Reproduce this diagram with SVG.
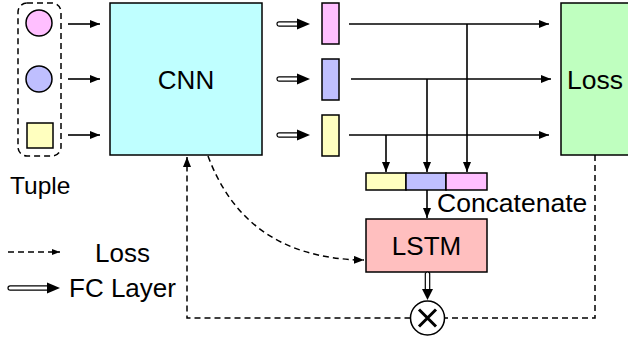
<svg xmlns="http://www.w3.org/2000/svg" width="628" height="341" viewBox="0 0 628 341">
  <style>
    .box { stroke: #000; stroke-width: 1.5; }
    .line { fill: none; stroke: #000; stroke-width: 1.6; }
    .dash { fill: none; stroke: #000; stroke-width: 1.5; stroke-dasharray: 6 4; }
    .shaft { fill: #fff; stroke: #000; stroke-width: 1.2; }
    .head { fill: #000; }
    .txt { font-family: "Liberation Sans", Arial, sans-serif; fill: #000; }
    .pink { fill: #ffbfff; }
    .blue { fill: #bfbfff; }
    .yellow { fill: #ffffbf; }
  </style>
  <defs>
    <marker id="arrow" viewBox="0 0 10 8" refX="10" refY="4" markerWidth="10" markerHeight="8" markerUnits="userSpaceOnUse" orient="auto">
      <path d="M0,0 L10,4 L0,8 z" fill="#000"/>
    </marker>
    <marker id="arrowSmall" viewBox="0 0 8 6" refX="8" refY="3" markerWidth="8" markerHeight="6" markerUnits="userSpaceOnUse" orient="auto">
      <path d="M0,0 L8,3 L0,6 z" fill="#000"/>
    </marker>
    <!-- hollow-shaft arrow used for fully connected layers, pointing right, length 33 -->
    <g id="fc">
      <rect class="shaft" x="0" y="-2.2" width="23" height="4.4" rx="2.2"/>
      <path class="head" d="M20,-5.5 L33,0 L20,5.5 z"/>
    </g>
  </defs>

  <!-- input tuple -->
  <g id="tuple">
    <rect x="18" y="3" width="43" height="153" rx="9" class="dash"/>
    <circle cx="39" cy="23" r="13" class="box pink"/>
    <circle cx="39" cy="79" r="13" class="box blue"/>
    <rect x="27" y="123" width="26" height="25" class="box yellow"/>
    <text x="10" y="194" class="txt" font-size="24.5">Tuple</text>
  </g>

  <g id="cnn">
    <rect x="110" y="3" width="152" height="152" class="box" fill="#bfffff"/>
    <text x="186" y="89" class="txt" font-size="26" text-anchor="middle">CNN</text>
  </g>

  <!-- per-item feature vectors -->
  <g id="feat-pink"><rect x="322" y="3" width="17" height="41" class="box pink"/></g>
  <g id="feat-blue"><rect x="322" y="59" width="17" height="41" class="box blue"/></g>
  <g id="feat-yellow"><rect x="322" y="115" width="17" height="41" class="box yellow"/></g>

  <g id="concat">
    <rect x="366" y="173" width="40" height="17" class="box yellow"/>
    <rect x="406" y="173" width="40" height="17" class="box blue"/>
    <rect x="446" y="173" width="41" height="17" class="box pink"/>
    <text x="437" y="212" class="txt" font-size="26.5">Concatenate</text>
  </g>

  <g id="loss">
    <rect x="561" y="3" width="80" height="152" class="box" fill="#bfffbf"/>
    <text x="567" y="89" class="txt" font-size="26.5">Loss</text>
  </g>

  <g id="lstm">
    <rect x="366" y="219" width="121" height="53" class="box" fill="#ffbfbf"/>
    <text x="426.5" y="255" class="txt" font-size="26" text-anchor="middle">LSTM</text>
  </g>

  <g id="product">
    <circle cx="427.5" cy="318" r="17" class="box" fill="#fff"/>
    <path d="M419,309.5 L436,326.5 M436,309.5 L419,326.5" class="line" style="stroke-width:3"/>
  </g>

  <g id="connectors">
    <!-- tuple to CNN -->
    <line x1="68" y1="24" x2="100" y2="24" class="line" marker-end="url(#arrow)"/>
    <line x1="68" y1="79" x2="100" y2="79" class="line" marker-end="url(#arrow)"/>
    <line x1="68" y1="135" x2="100" y2="135" class="line" marker-end="url(#arrow)"/>

    <!-- CNN to features (FC) -->
    <use href="#fc" transform="translate(277,24)"/>
    <use href="#fc" transform="translate(277,79)"/>
    <use href="#fc" transform="translate(277,135)"/>

    <!-- features to loss -->
    <line x1="349" y1="24" x2="549" y2="24" class="line" marker-end="url(#arrow)"/>
    <line x1="351" y1="79" x2="551" y2="79" class="line" marker-end="url(#arrow)"/>
    <line x1="349" y1="135" x2="549" y2="135" class="line" marker-end="url(#arrow)"/>

    <!-- features to concatenation -->
    <line x1="386" y1="135" x2="386" y2="172" class="line" marker-end="url(#arrow)"/>
    <line x1="427" y1="79" x2="427" y2="172" class="line" marker-end="url(#arrow)"/>
    <line x1="467" y1="24" x2="467" y2="172" class="line" marker-end="url(#arrow)"/>

    <!-- concatenation to LSTM -->
    <line x1="427" y1="190" x2="427" y2="218" class="line" marker-end="url(#arrow)"/>

    <!-- LSTM to product (FC) -->
    <use href="#fc" transform="translate(427.5,272) rotate(90) scale(0.85,1)"/>

    <!-- CNN to LSTM -->
    <path d="M208,156 C230,215 275,259 364,260" class="dash" marker-end="url(#arrow)"/>

    <!-- loss feedback to CNN -->
    <path d="M595,155 L595,318 L444.5,318" class="dash"/>
    <path d="M410.5,318 L187,318 L187,157" class="dash" marker-end="url(#arrow)"/>
  </g>

  <g id="legend">
    <line x1="8" y1="252" x2="60" y2="252" class="dash" marker-end="url(#arrowSmall)"/>
    <text x="95" y="262" class="txt" font-size="26">Loss</text>
    <rect class="shaft" x="8" y="285.8" width="42" height="4.4" rx="2.2"/>
    <path class="head" d="M47,282.5 L60,288 L47,293.5 z"/>
    <text x="69" y="297" class="txt" font-size="26">FC Layer</text>
  </g>
</svg>
